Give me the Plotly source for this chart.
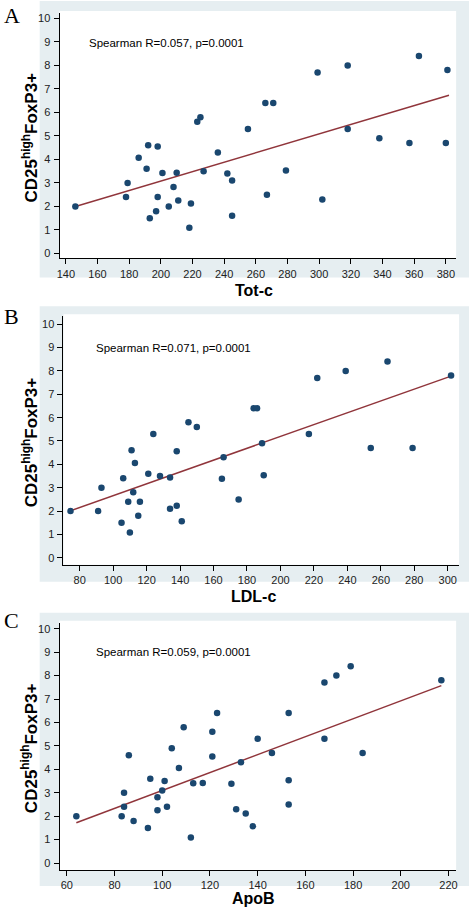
import plotly.graph_objects as go

W, H = 472, 910

# ---------------- data ----------------
totc_x = [299, 318, 363, 381, 266, 271, 223, 225, 255, 318, 338, 357, 380, 192, 198, 236, 186,
          191, 201, 210, 227, 242, 245, 279, 179, 208, 178, 198, 211, 219, 267, 302, 146, 205,
          197, 193, 245, 218]
totc_y = [7.7, 8.0, 8.4, 7.8, 6.4, 6.4, 5.6, 5.8, 5.3, 5.3, 4.9, 4.7, 4.7, 4.6, 4.55, 4.3, 4.07,
          3.6, 3.42, 3.43, 3.5, 3.4, 3.1, 3.53, 3.0, 2.83, 2.4, 2.4, 2.25, 2.13, 2.5, 2.3, 2.0, 2.0,
          1.8, 1.5, 1.6, 1.1]
totc_fit_x = [145, 382]
totc_fit_y = [1.98, 6.73]

ldl_x = [264, 239, 222, 302, 184, 186, 145, 150, 124, 217, 189, 254, 279, 111, 138, 166,
         113, 121, 106, 128, 134, 165, 190, 93, 112, 109, 116, 175, 134, 138, 74.5, 91, 115,
         105, 141, 110]
ldl_y = [8.4, 8.0, 7.7, 7.8, 6.4, 6.4, 5.8, 5.6, 5.3, 5.3, 4.9, 4.7, 4.7, 4.6, 4.56, 4.3,
         4.06, 3.6, 3.41, 3.5, 3.44, 3.38, 3.53, 3.0, 2.81, 2.4, 2.4, 2.5, 2.1, 2.23, 2.0, 2.0,
         1.8, 1.5, 1.56, 1.08]
ldl_fit_x = [74, 302]
ldl_fit_y = [2.0, 7.78]

apob_x = [179, 173, 168, 217, 123, 153, 109, 121, 140, 168, 104, 146, 184, 86, 121,
          133, 107, 95, 101, 113, 117, 129, 153, 84, 100, 98, 84, 102, 98, 131, 135, 153,
          64, 83, 88, 94, 138, 112]
apob_y = [8.4, 8.0, 7.7, 7.8, 6.4, 6.4, 5.8, 5.6, 5.3, 5.3, 4.9, 4.7, 4.7, 4.6, 4.55,
          4.3, 4.06, 3.6, 3.5, 3.41, 3.42, 3.38, 3.53, 3.0, 3.1, 2.81, 2.4, 2.4, 2.25, 2.3,
          2.12, 2.5, 2.0, 2.0, 1.8, 1.5, 1.57, 1.09]
apob_fit_x = [64, 217]
apob_fit_y = [1.72, 7.57]

y_ticks = list(range(0, 11))
totc_ticks = list(range(140, 381, 20))
ldl_ticks = list(range(80, 301, 20))
apob_ticks = list(range(60, 221, 20))

panel_letters = ["A", "B", "C"]
x_titles = ["Tot-c", "LDL-c", "ApoB"]
y_title = "CD25<sup>high</sup>FoxP3+"
spearman = ["Spearman R=0.057, p=0.0001", "Spearman R=0.071, p=0.0001", "Spearman R=0.059, p=0.0001"]

# ---------------- layout geometry (pixels) ----------------
def px_x(p):
    return p / W

def px_y(p):
    return 1 - p / H

panels = [
    dict(x=totc_x, y=totc_y, fx=totc_fit_x, fy=totc_fit_y, ticks=totc_ticks,
         xdom=(57, 457), ydom=(258, 12), xr=[136.0, 386.5], yr=[-0.21, 10.23],
         gray=(0, 277), txt=(153.6, 8.95), letter_y=15, xt_y=290),
    dict(x=ldl_x, y=ldl_y, fx=ldl_fit_x, fy=ldl_fit_y, ticks=ldl_ticks,
         xdom=(61, 460), ydom=(565, 316), xr=[70.3, 306.8], yr=[-0.30, 10.34],
         gray=(306, 582), txt=(88.7, 9.0), letter_y=316, xt_y=597),
    dict(x=apob_x, y=apob_y, fx=apob_fit_x, fy=apob_fit_y, ticks=apob_ticks,
         xdom=(57, 457), ydom=(871, 623), xr=[56.95, 223.2], yr=[-0.30, 10.26],
         gray=(613, 887), txt=(71.5, 9.0), letter_y=621, xt_y=899),
]

NAVY = "#1a476f"
MAROON = "#90353b"
GRAY = "#e6eef1"
FONT = "Liberation Sans, Arial, sans-serif"

fig = go.Figure()
shapes = []
annotations = []
layout = {}

for i, p in enumerate(panels):
    n = "" if i == 0 else str(i + 1)
    xa, ya = "x" + n, "y" + n
    fig.add_trace(go.Scatter(x=p["fx"], y=p["fy"], mode="lines",
                             line=dict(color=MAROON, width=1.5),
                             xaxis=xa, yaxis=ya, showlegend=False, hoverinfo="skip"))
    fig.add_trace(go.Scatter(x=p["x"], y=p["y"], mode="markers",
                             marker=dict(color=NAVY, size=6.5, line=dict(width=0)),
                             xaxis=xa, yaxis=ya, showlegend=False))
    layout["xaxis" + n] = dict(
        domain=[px_x(p["xdom"][0]), px_x(p["xdom"][1])], range=p["xr"],
        anchor=ya, tickmode="array", tickvals=p["ticks"],
        showgrid=False, zeroline=False, showline=True, linecolor="black", linewidth=1,
        ticks="outside", ticklen=5, tickwidth=1, tickcolor="black",
        tickfont=dict(family=FONT, size=11, color="#222"))
    layout["yaxis" + n] = dict(
        domain=[px_y(p["ydom"][0]), px_y(p["ydom"][1])], range=p["yr"],
        anchor=xa, tickmode="array", tickvals=y_ticks,
        showgrid=False, zeroline=False, showline=True, linecolor="black", linewidth=1,
        ticks="outside", ticklen=5, tickwidth=1, tickcolor="black",
        ticklabelstandoff=1,
        tickfont=dict(family=FONT, size=11, color="#222"))
    # gray graph region
    shapes.append(dict(type="rect", xref="paper", yref="paper", layer="below",
                       x0=px_x(37), x1=px_x(470), y0=px_y(p["gray"][1]), y1=px_y(p["gray"][0]),
                       fillcolor=GRAY, line=dict(width=0)))
    # white plot region
    shapes.append(dict(type="rect", xref="paper", yref="paper", layer="below",
                       x0=px_x(p["xdom"][0]), x1=px_x(p["xdom"][1]),
                       y0=px_y(p["ydom"][0]), y1=px_y(p["ydom"][1] - 2),
                       fillcolor="white", line=dict(width=0)))
    # Spearman annotation
    annotations.append(dict(x=p["txt"][0], y=p["txt"][1], xref=xa, yref=ya,
                            text=spearman[i], showarrow=False, xanchor="left", yanchor="middle",
                            font=dict(family=FONT, size=11.5, color="black")))
    # y title
    yc = (p["ydom"][0] + p["ydom"][1]) / 2 + 2
    annotations.append(dict(x=px_x(27), y=px_y(yc), xref="paper", yref="paper",
                            text="<b>" + y_title + "</b>", textangle=-90, showarrow=False,
                            xanchor="center", yanchor="middle",
                            font=dict(family=FONT, size=17, color="black")))
    # x title
    annotations.append(dict(x=px_x(253), y=px_y(p["xt_y"]), xref="paper", yref="paper",
                            text="<b>" + x_titles[i] + "</b>", showarrow=False,
                            xanchor="center", yanchor="middle", borderpad=0,
                            font=dict(family=FONT, size=16, color="black")))
    # panel letter
    annotations.append(dict(x=px_x(9), y=px_y(p["letter_y"]), xref="paper", yref="paper",
                            text=panel_letters[i], showarrow=False,
                            xanchor="center", yanchor="middle",
                            font=dict(family="Liberation Serif, Times New Roman, serif", size=22, color="black")))

fig.update_layout(
    width=W, height=H, margin=dict(l=0, r=0, t=0, b=0),
    paper_bgcolor="white", plot_bgcolor="rgba(0,0,0,0)",
    shapes=shapes, annotations=annotations, **layout)

fig.write_html("out.html", config={"displayModeBar": False},
               post_script="document.body.style.margin='0px';document.body.style.overflow='hidden';")
